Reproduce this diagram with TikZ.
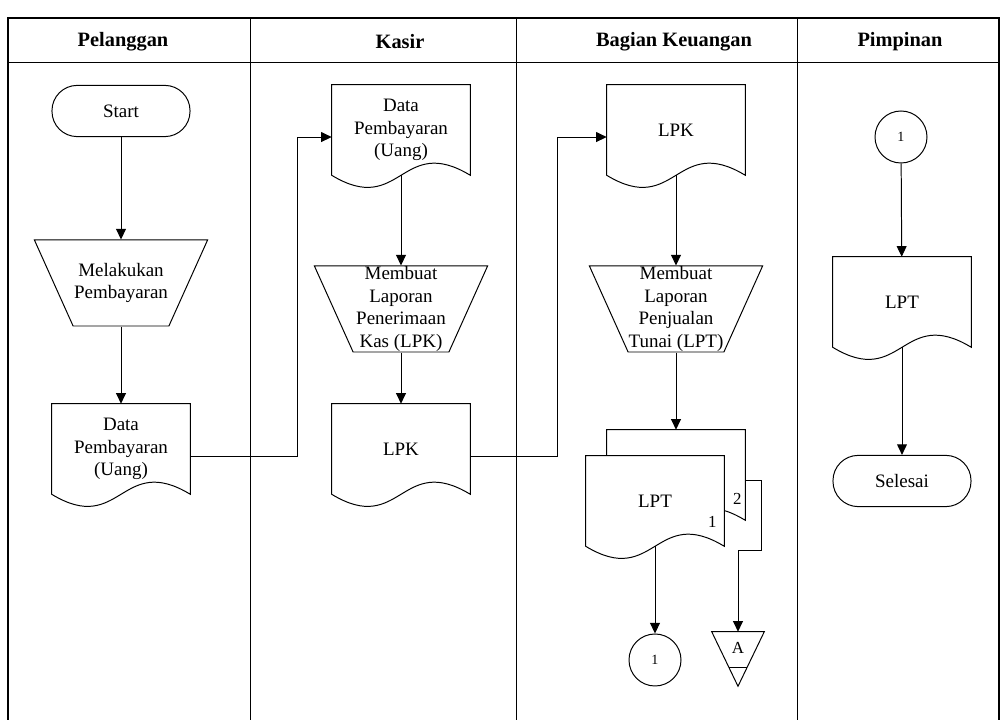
\documentclass[tikz,border=0pt]{standalone}
\usepackage{fontspec}
\setmainfont{Liberation Serif}
\usetikzlibrary{positioning, arrows.meta, shapes.geometric, calc, backgrounds}

\newcommand{\txtsize}{\fontsize{13.5}{16}\selectfont}

\begin{document}
\begin{tikzpicture}[
    x=0.025cm, y=-0.025cm,
    every node/.style={font=\txtsize},
    flowline/.style={line width=0.7pt},
    arr/.style={flowline, -{Triangle[length=7.5pt, width=7pt]}},
    head/.style={font=\fontsize{14.5}{17}\selectfont\bfseries},
    term/.style={draw, flowline, rectangle, rounded corners=0.63cm, minimum width=3.45cm, minimum height=1.28cm},
    docu/.style={rectangle, inner sep=0pt, align=center, minimum width=3.45cm, minimum height=2.25cm},
    manop/.style={draw, flowline, trapezium, shape border rotate=180, trapezium stretches=true,
        trapezium left angle=68, trapezium right angle=68, minimum width=4.33cm, minimum height=2.15cm, inner sep=2pt},
    inlbl/.style={align=center, font=\txtsize},
    conn/.style={draw, flowline, circle, minimum size=1.3cm, inner sep=0pt, font=\fontsize{10}{12}\selectfont},
    store/.style={rectangle, inner sep=0pt, minimum width=1.3cm, minimum height=1.35cm},
    num/.style={font=\fontsize{12}{14}\selectfont, inner sep=0pt}
]
\useasboundingbox (0,0) rectangle (1002,720);

% === swimlane frame ===
\draw[line width=1pt] (8,725) -- (8,18) -- (999,18) -- (999,725);
\draw[flowline] (8,62) -- (999,62);
\foreach \xl in {250,516,797}
    \draw[flowline] (\xl,18) -- (\xl,725);

\node[head] (h1) at (123,42) {Pelanggan};
\node[head] (h2) at (400,42) {Kasir};
\node[head] (h3) at (674,42) {Bagian Keuangan};
\node[head] (h4) at (900,42) {Pimpinan};

% === Pelanggan ===
\node[term] (p0) at (121,111) {Start};
\node[manop, label={[inlbl]center:Melakukan\\Pembayaran}] (p1) at (121,283) {};
\node[docu] (p2) at (121,449) {Data\\Pembayaran\\(Uang)};

% === Kasir ===
\node[docu] (k1) at (401,130) {Data\\Pembayaran\\(Uang)};
\node[manop, label={[inlbl]center:Membuat\\Laporan\\Penerimaan\\Kas (LPK)}] (k2) at (401,309) {};
\node[docu] (k3) at (401,449) {LPK};

% === Bagian Keuangan ===
\node[docu] (b1) at (676,130) {LPK};
\node[manop, label={[inlbl]center:Membuat\\Laporan\\Penjualan\\Tunai (LPT)}] (b2) at (676,309) {};
\node[docu] (b3) at (676,475) {};
\node[docu] (b4) at (655,501) {LPT};
\node[num] (n2) at ([xshift=-5.7pt, yshift=15pt]b3.south east) {2};
\node[num] (n1) at ([xshift=-8.5pt, yshift=17.5pt]b4.south east) {1};
\node[conn] (b5) at (655,660) {1};
\node[store, label={[num, yshift=7.8pt]center:A}] (b6) at (738,659) {};

% === Pimpinan ===
\node[conn] (m0) at (901,137) {1};
\node[docu] (m1) at (902,302) {LPT};
\node[term] (m2) at (902,481) {Selesai};

% document outlines (wavy bottom)
\begin{scope}[on background layer]
    \foreach \d in {p2,k1,k3,b1,b3,b4,m1}
        \draw[flowline, fill=white] (\d.south west) -- (\d.north west) -- (\d.north east) -- (\d.south east)
            .. controls ($(\d.south)+(0,-42)$) and ($(\d.south)+(0,42)$) .. cycle;
\end{scope}

% offline storage
\draw[flowline] (b6.north west) -- (b6.north east) -- (b6.south) -- cycle;
\draw[flowline] ($(b6.south)+(-9,-19)$) -- ($(b6.south)+(9,-19)$);

% flow
\draw[arr] (p0) -- (p1);
\draw[arr] (p1) -- (p2);
\draw[arr] ([yshift=-5pt]p2.east) -- ++(107,0) |- ([yshift=-5pt]k1.west);
\draw[arr] (k1) -- (k2);
\draw[arr] (k2) -- (k3);
\draw[arr] ([yshift=-5pt]k3.east) -- ++(87,0) |- ([yshift=-5pt]b1.west);
\draw[arr] (b1) -- (b2);
\draw[arr] (b2) -- (b3);
\draw[arr] (b4) -- (b5);
\draw[arr] ([yshift=-4pt]b3.east) -- ++(16,0) -- ++(0,70) -| (b6);
\draw[arr] (m0) -- (m1);
\draw[arr] (m1) -- (m2);

\end{tikzpicture}
\end{document}
